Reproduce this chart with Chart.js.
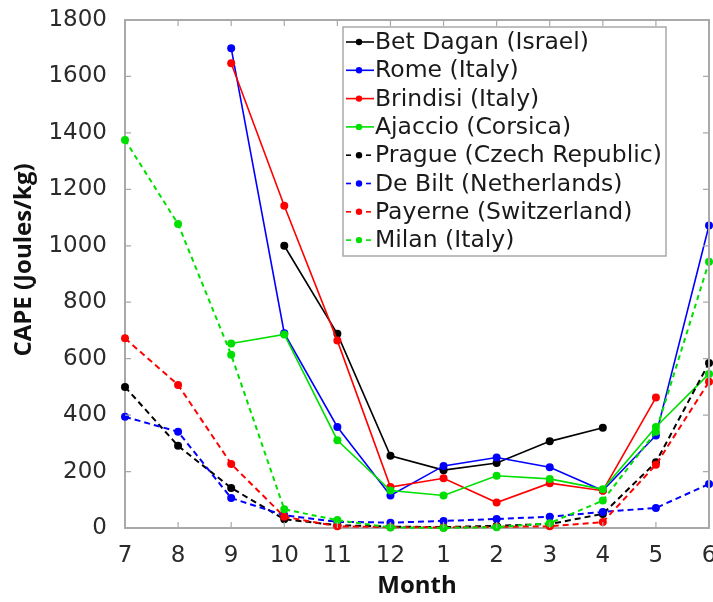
<!DOCTYPE html>
<html>
<head>
<meta charset="utf-8">
<script src="https://cdn.jsdelivr.net/npm/chart.js@4.4.1/dist/chart.umd.min.js"></script>
<style>
  html, body { margin: 0; padding: 0; background: #ffffff; }
  #wrap { width: 713px; height: 602px; }
</style>
</head>
<body>
<div id="wrap"><canvas id="cape" width="713" height="602"></canvas></div>
<script>
// Months, July through June
const months = ['7', '8', '9', '10', '11', '12', '1', '2', '3', '4', '5', '6'];
const yTicks = [0, 200, 400, 600, 800, 1000, 1200, 1400, 1600, 1800];

// Mean CAPE (J/kg) per month for each station
const betDagan = [null, null, null, 1000, 688, 256, 205, 230, 307, 355, null, null];
const rome     = [null, null, 1700, 690, 358, 115, 220, 250, 215, 133, 328, 1072];
const brindisi = [null, null, 1647, 1142, 664, 145, 176, 90, 159, 132, 462, null];
const ajaccio  = [null, null, 654, 686, 311, 133, 115, 185, 174, 137, 358, 546];
const prague   = [500, 291, 142, 31, 10, 5, 3, 8, 14, 50, 233, 585];
const deBilt   = [394, 341, 106, 45, 22, 19, 25, 32, 40, 57, 71, 156];
const payerne  = [672, 507, 227, 40, 6, 3, 2, 4, 6, 21, 224, 518];
const milan    = [1375, 1077, 614, 66, 28, 2, 0, 3, 17, 97, 341, 943];

const stationNames = [
  'Bet Dagan (Israel)', 'Rome (Italy)', 'Brindisi (Italy)', 'Ajaccio (Corsica)',
  'Prague (Czech Republic)', 'De Bilt (Netherlands)', 'Payerne (Switzerland)', 'Milan (Italy)'
];
const stationValues = [betDagan, rome, brindisi, ajaccio, prague, deBilt, payerne, milan];
const stationColors = ['#000000', '#0000ff', '#ff0000', '#00e000', '#000000', '#0000ff', '#ff0000', '#00e000'];
const stationDashed = [false, false, false, false, true, true, true, true];

const AXIS_GREY = '#a9a9a9';
const TEXT_GREY = '#2b2b2b';

const datasets = stationNames.map((name, i) => ({
  label: name,
  data: stationValues[i],
  borderColor: stationColors[i],
  backgroundColor: stationColors[i],
  borderWidth: stationDashed[i] ? 2 : 1.6,
  borderDash: stationDashed[i] ? (i === 7 ? [5, 4] : [6, 4]) : [],
  pointRadius: 4,
  pointBorderWidth: 0,
  pointHoverRadius: 4,
  spanGaps: false,
  tension: 0,
  clip: 8,
  order: -i
}));

// Box outline and inward tick marks on all four sides
const frameAndTicks = {
  id: 'frameAndTicks',
  afterDatasetsDraw(chart) {
    const { ctx, chartArea: a, scales: { x, y } } = chart;
    ctx.save();
    ctx.strokeStyle = AXIS_GREY;
    ctx.lineWidth = 2;
    ctx.beginPath();
    ctx.moveTo(a.left, a.top);
    ctx.lineTo(a.right, a.top);
    ctx.lineTo(a.right, a.bottom);
    ctx.stroke();
    ctx.lineWidth = 1.2;
    ctx.beginPath();
    months.forEach((m, i) => {
      const px = x.getPixelForValue(i);
      ctx.moveTo(px, a.bottom);
      ctx.lineTo(px, a.bottom - 6);
      ctx.moveTo(px, a.top);
      ctx.lineTo(px, a.top + 6);
    });
    yTicks.forEach(v => {
      const py = y.getPixelForValue(v);
      ctx.moveTo(a.left, py);
      ctx.lineTo(a.left + 6, py);
      ctx.moveTo(a.right, py);
      ctx.lineTo(a.right - 6, py);
    });
    ctx.stroke();
    ctx.restore();
  }
};

// Axis titles
const axisTitles = {
  id: 'axisTitles',
  afterDraw(chart) {
    const { ctx, chartArea: a } = chart;
    ctx.save();
    ctx.fillStyle = '#111111';
    ctx.font = 'bold 24px "Open Sans"';
    ctx.textAlign = 'center';
    ctx.textBaseline = 'middle';
    ctx.fillText('Month', (a.left + a.right) / 2, 586);
    ctx.translate(24, 260);
    ctx.rotate(-Math.PI / 2);
    ctx.fillText('CAPE (Joules/kg)', 0, 0);
    ctx.restore();
  }
};

// Legend box inside the plot, top right
const boxLegend = {
  id: 'boxLegend',
  afterDraw(chart) {
    const { ctx } = chart;
    const left = 343, top = 27, right = 666, bottom = 256;
    ctx.save();
    ctx.fillStyle = '#ffffff';
    ctx.fillRect(left, top, right - left, bottom - top);
    ctx.strokeStyle = AXIS_GREY;
    ctx.lineWidth = 1.5;
    ctx.strokeRect(left, top, right - left, bottom - top);
    ctx.font = '23.5px "DejaVu Sans"';
    ctx.textAlign = 'left';
    ctx.textBaseline = 'middle';
    chart.data.datasets.forEach((ds, i) => {
      const cy = 42 + i * 28.3;
      ctx.strokeStyle = ds.borderColor;
      ctx.lineWidth = 1.6;
      ctx.setLineDash(ds.borderDash.length ? [5, 5] : []);
      ctx.beginPath();
      ctx.moveTo(346, cy);
      ctx.lineTo(374, cy);
      ctx.stroke();
      ctx.setLineDash([]);
      ctx.fillStyle = ds.borderColor;
      ctx.beginPath();
      ctx.arc(359, cy, 3.2, 0, Math.PI * 2);
      ctx.fill();
      ctx.fillStyle = '#1a1a1a';
      ctx.fillText(ds.label, 375, cy + 1);
    });
    ctx.restore();
  }
};

new Chart(document.getElementById('cape'), {
  type: 'line',
  data: { labels: months, datasets },
  options: {
    responsive: false,
    animation: false,
    events: [],
    layout: { padding: { top: 20, right: 2, left: 0, bottom: 0 } },
    plugins: { legend: { display: false }, tooltip: { enabled: false } },
    scales: {
      x: {
        type: 'category',
        offset: false,
        grid: { display: false },
        border: { display: true, color: AXIS_GREY, width: 2 },
        ticks: {
          color: TEXT_GREY,
          font: { family: 'DejaVu Sans', size: 23 },
          padding: 6,
          maxRotation: 0,
          autoSkip: false
        },
        afterFit(scale) {
          scale.height = 74;
          scale.paddingLeft = 0;
          scale.paddingRight = 0;
        }
      },
      y: {
        min: 0,
        max: 1800,
        afterBuildTicks(scale) {
          scale.ticks = yTicks.map(v => ({ value: v }));
        },
        grid: { display: false },
        border: { display: true, color: AXIS_GREY, width: 2 },
        ticks: {
          color: TEXT_GREY,
          font: { family: 'DejaVu Sans', size: 23 },
          padding: 10,
          callback: v => String(v)
        },
        afterFit(scale) {
          scale.width = 125;
          scale.paddingTop = 0;
          scale.paddingBottom = 0;
        }
      }
    }
  },
  plugins: [frameAndTicks, axisTitles, boxLegend]
});
</script>
</body>
</html>
